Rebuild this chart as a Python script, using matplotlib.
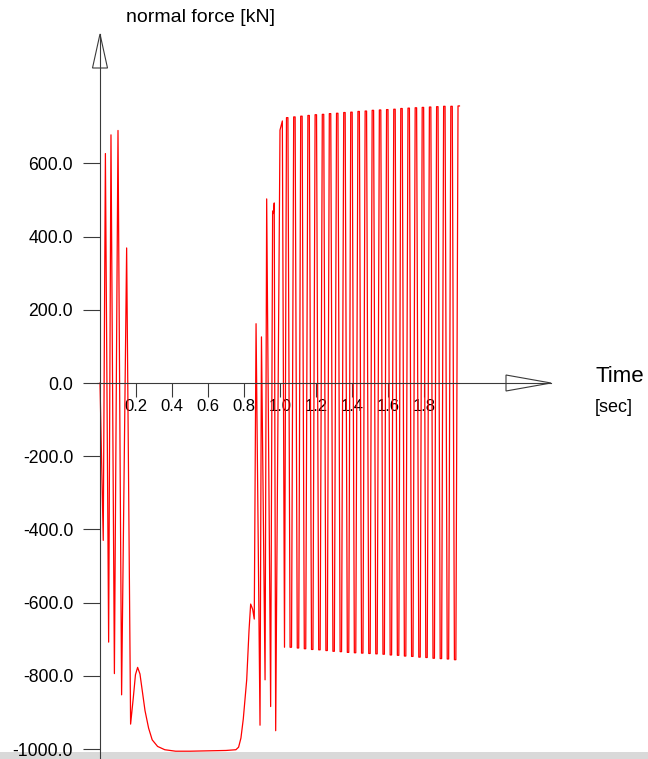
import numpy as np
import matplotlib
matplotlib.use("Agg")
import matplotlib.pyplot as plt
from matplotlib.patches import Polygon, Rectangle

plt.rcParams['font.family'] = ['Liberation Sans', 'DejaVu Sans']

#Start of the run: impacts, then the long flat part at the bottom, then the jump.
t_start = [0.0, 0.018, 0.030, 0.048, 0.061, 0.080, 0.100, 0.120, 0.148, 0.170,
           0.185, 0.197, 0.209, 0.222, 0.236, 0.250, 0.270, 0.290, 0.320, 0.360,
           0.420, 0.500, 0.600, 0.700, 0.755, 0.770, 0.783, 0.796, 0.815, 0.828,
           0.837, 0.848, 0.857, 0.867, 0.889, 0.897, 0.917, 0.926, 0.948, 0.959,
           0.963, 0.968, 0.976, 1.000, 1.013, 1.025]
f_start = [0, -430, 627, -708, 678, -794, 690, -852, 369, -932,
           -860, -797, -777, -795, -845, -895, -943, -975, -993, -1002,
           -1006, -1006, -1005, -1004, -1002, -995, -970, -918, -811, -675,
           -604, -618, -645, 162, -935, 126, -811, 503, -884, 470,
           463, 492, -950, 691, 716, -722]

#Steady oscillation after 1.0 sec. Every top and bottom is a short flat
#piece, so each one has a left and a right time.
t_tops_left = [1.036, 1.076, 1.115, 1.155, 1.195, 1.235, 1.274, 1.314, 1.354, 1.393,
               1.433, 1.473, 1.512, 1.552, 1.592, 1.632, 1.671, 1.711, 1.751, 1.790,
               1.830, 1.870, 1.909, 1.949, 1.989]
t_tops_right = [1.044, 1.084, 1.123, 1.163, 1.203, 1.243, 1.282, 1.322, 1.362, 1.401,
                1.441, 1.481, 1.520, 1.560, 1.600, 1.640, 1.679, 1.719, 1.759, 1.798,
                1.838, 1.878, 1.917, 1.957, 1.997]
f_tops = [725, 727, 729, 731, 733, 734, 736, 737, 739, 740,
          742, 743, 745, 746, 747, 748, 750, 751, 752, 753,
          754, 755, 756, 756, 757]

t_bottoms_left = [1.056, 1.096, 1.135, 1.175, 1.215, 1.255, 1.294, 1.334, 1.374, 1.413,
                  1.453, 1.493, 1.532, 1.572, 1.612, 1.652, 1.691, 1.731, 1.771, 1.810,
                  1.850, 1.890, 1.929, 1.969]
t_bottoms_right = [1.064, 1.104, 1.143, 1.183, 1.223, 1.263, 1.302, 1.342, 1.382, 1.421,
                   1.461, 1.501, 1.540, 1.580, 1.620, 1.660, 1.699, 1.739, 1.779, 1.818,
                   1.858, 1.898, 1.937, 1.977]
f_bottoms = [-722, -724, -726, -728, -729, -731, -733, -734, -736, -737,
             -738, -739, -740, -741, -743, -744, -746, -747, -749, -750,
             -752, -753, -754, -756]

x_ticks = [0.2, 0.4, 0.6, 0.8, 1.0, 1.2, 1.4, 1.6, 1.8]
y_ticks = [-1000, -800, -600, -400, -200, 0, 200, 400, 600]

#Put every point in time order
times = np.array(t_start + t_tops_left + t_tops_right + t_bottoms_left + t_bottoms_right)
forces = np.array(f_start + f_tops + f_tops + f_bottoms + f_bottoms)
order = np.argsort(times, kind="stable")
times = times[order]
forces = forces[order]

W, H = 648, 759
fig = plt.figure(figsize=(W / 100, H / 100), dpi=100)
ax = fig.add_axes([0, 0, 1, 1])
ax.patch.set_visible(False)

#origin sits at pixel (100, 383), 180 px per second, 0.366 px per kN
ax.set_xlim(-100 / 180, (W - 100) / 180)
ax.set_ylim(-376 / 0.366, (H - 376) / 0.366)

ax.plot(times, forces, color="#ff0000", linewidth=0.9, zorder=2)

axis_color = "#3a3a3a"
for side in ["top", "right"]:
    ax.spines[side].set_visible(False)
ax.spines["left"].set_position(("data", 0))
ax.spines["bottom"].set_position(("data", 0))
ax.spines["left"].set_bounds(-1100, (383 - 34) / 0.366)
ax.spines["bottom"].set_bounds(-3 / 180, (551 - 100) / 180)
for side in ["left", "bottom"]:
    ax.spines[side].set_color(axis_color)
    ax.spines[side].set_linewidth(0.8)
    ax.spines[side].set_zorder(2.5)

ax.set_xticks(x_ticks)
ax.set_xticklabels([f"{x:.1f}" for x in x_ticks])
ax.set_yticks(y_ticks)
ax.set_yticklabels([f"{y:.1f}" for y in y_ticks])
ax.tick_params(axis="x", direction="out", length=10, width=0.8, pad=1.5,
               labelsize=12, color=axis_color, labelcolor="black")
ax.tick_params(axis="y", direction="out", length=11.9, width=0.8, pad=7.4,
               labelsize=12.7, color=axis_color, labelcolor="black")


def px(x, y):
    #pixel (from top left) to figure fraction
    return (x / W, 1 - y / H)


#open arrow heads at the end of both axes
y_head = Polygon([px(100, 34), px(92.5, 68), px(107.5, 68)], closed=True,
                 transform=fig.transFigure, facecolor="white",
                 edgecolor=axis_color, linewidth=0.8, zorder=2)
x_head = Polygon([px(551, 383), px(506, 375), px(506, 391)], closed=True,
                 transform=fig.transFigure, facecolor="white",
                 edgecolor=axis_color, linewidth=0.8, zorder=2)
ax.add_patch(y_head)
ax.add_patch(x_head)

#grey strip along the bottom edge
ax.add_patch(Rectangle((0, 0), 1, 7 / H, transform=ax.transAxes,
                       facecolor="#d9d9d9", edgecolor="none", zorder=0))

fig.text(*px(126, 17), "normal force [kN]", fontsize=14, va="center", ha="left")
fig.text(*px(595, 376), "Time", fontsize=16, va="center", ha="left")
fig.text(*px(595, 407), "[sec]", fontsize=13, va="center", ha="left")

fig.savefig("out.png", dpi=100)
